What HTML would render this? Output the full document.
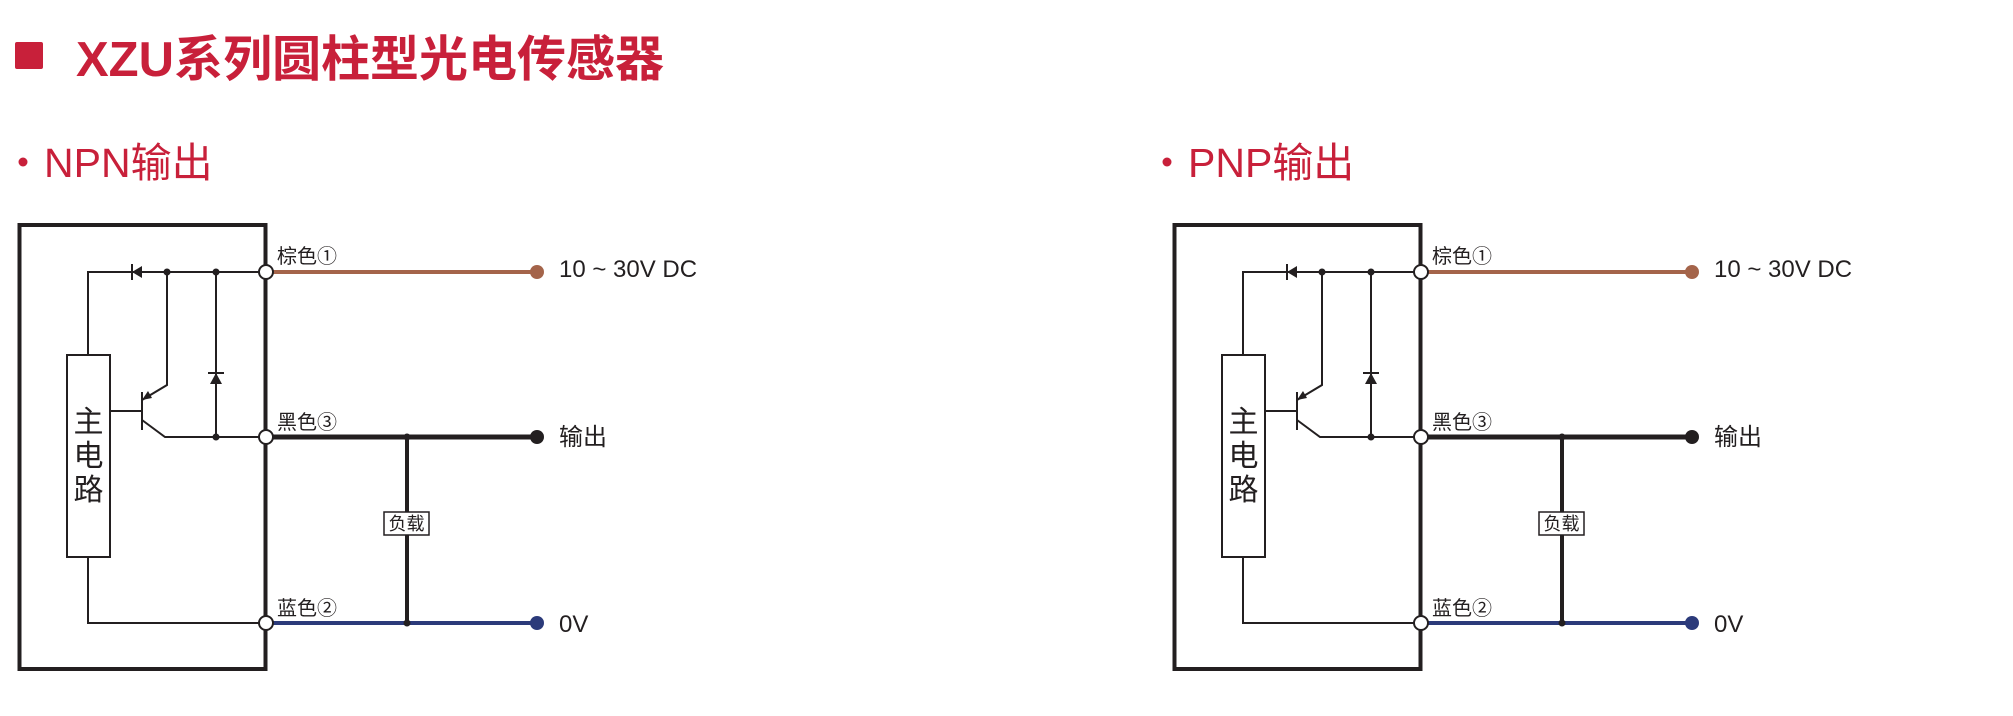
<!DOCTYPE html>
<html><head><meta charset="utf-8"><style>
html,body{margin:0;padding:0;background:#fff;width:2013px;height:716px;overflow:hidden}
svg{display:block}
.t{font-family:"Liberation Sans","Noto Sans CJK SC",sans-serif}
</style></head><body>
<svg width="2013" height="716" viewBox="0 0 2013 716" xmlns="http://www.w3.org/2000/svg">
<defs>
<g id="d">
  <rect x="19.5" y="225" width="246" height="444" fill="none" stroke="#231f20" stroke-width="4"/>
  <line x1="266" y1="272" x2="537" y2="272" stroke="#a4644a" stroke-width="4"/>
  <line x1="266" y1="437" x2="537" y2="437" stroke="#231f20" stroke-width="5"/>
  <line x1="266" y1="623" x2="537" y2="623" stroke="#2b3a7a" stroke-width="4"/>
  <line x1="407" y1="437" x2="407" y2="623" stroke="#231f20" stroke-width="4"/>
  <circle cx="407" cy="437" r="3.5" fill="#231f20"/>
  <circle cx="407" cy="623" r="3.5" fill="#231f20"/>
  <rect x="384" y="512" width="45" height="23" fill="#fff" stroke="#231f20" stroke-width="1.5"/>
  <text x="406.5" y="530" class="t" font-size="18" text-anchor="middle" fill="#231f20">负载</text>
  <circle cx="537" cy="272" r="7" fill="#a4644a"/>
  <circle cx="537" cy="437" r="7" fill="#231f20"/>
  <circle cx="537" cy="623" r="7" fill="#2b3a7a"/>
  <text x="277" y="263" class="t" font-size="20" fill="#231f20">棕色①</text>
  <text x="277" y="429" class="t" font-size="20" fill="#231f20">黑色③</text>
  <text x="277" y="615" class="t" font-size="20" fill="#231f20">蓝色②</text>
  <g stroke="#231f20" stroke-width="2" fill="none">
    <polyline points="266,272 88,272 88,355"/>
    <polyline points="88,557 88,623 266,623"/>
    <polyline points="167,272 167,385 142,400"/>
    <line x1="142" y1="392" x2="142" y2="430"/>
    <line x1="110" y1="411" x2="142" y2="411"/>
    <polyline points="142,420 165,437 266,437"/>
    <line x1="216" y1="272" x2="216" y2="437"/>
    <line x1="132" y1="264" x2="132" y2="280"/>
    <line x1="208" y1="373" x2="224" y2="373"/>
  </g>
  <rect x="67" y="355" width="43" height="202" fill="#fff" stroke="#231f20" stroke-width="2"/>
  <text class="t" font-size="30" fill="#231f20" text-anchor="middle"><tspan x="88.5" y="432">主</tspan><tspan x="88.5" y="466">电</tspan><tspan x="88.5" y="500">路</tspan></text>
  <polygon points="132,272 142,266 142,278" fill="#231f20"/>
  <polygon points="216,373 210,384 222,384" fill="#231f20"/>
  <polygon points="142,400 148,391 152,398" fill="#231f20"/>
  <circle cx="167" cy="272" r="3.5" fill="#231f20"/>
  <circle cx="216" cy="272" r="3.5" fill="#231f20"/>
  <circle cx="216" cy="437" r="3.5" fill="#231f20"/>
  <circle cx="266" cy="272" r="7" fill="#fff" stroke="#231f20" stroke-width="2"/>
  <circle cx="266" cy="437" r="7" fill="#fff" stroke="#231f20" stroke-width="2"/>
  <circle cx="266" cy="623" r="7" fill="#fff" stroke="#231f20" stroke-width="2"/>
  <text x="559" y="277" class="t" font-size="24" fill="#231f20">10 ~ 30V DC</text>
  <text x="559" y="445" class="t" font-size="24" fill="#231f20">输出</text>
  <text x="559" y="632" class="t" font-size="24" fill="#231f20">0V</text>
</g>
</defs>
<rect x="15" y="42" width="28" height="27" rx="2" fill="#c8203a"/>
<text x="76" y="76" class="t" font-size="49" font-weight="bold" fill="#c8203a">XZU系列圆柱型光电传感器</text>
<circle cx="23" cy="162" r="4.5" fill="#c8203a"/>
<text x="44" y="177" class="t" font-size="41" fill="#c8203a">NPN输出</text>
<circle cx="1167" cy="162" r="4.5" fill="#c8203a"/>
<text x="1188" y="177" class="t" font-size="41" fill="#c8203a">PNP输出</text>
<use href="#d"/>
<use href="#d" transform="translate(1155,0)"/>
</svg>
</body></html>
